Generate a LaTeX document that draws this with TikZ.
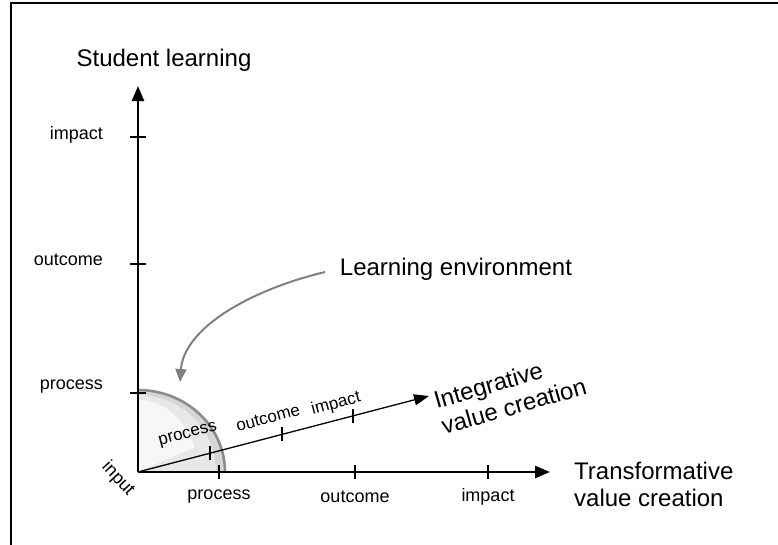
\documentclass[tikz,border=0pt]{standalone}
\usepackage{fontspec}
\setmainfont{Liberation Sans}
\usetikzlibrary{arrows.meta,calc}
\begin{document}
\begin{tikzpicture}[x=1pt,y=-1pt,
  axis/.style={line width=2.4pt,-{Triangle[length=15pt,width=12pt]}},
  daxis/.style={line width=1.3pt,-{Triangle[length=15pt,width=11pt]}},
  tickmark/.style={line width=1.3pt},
  biglab/.style={font=\fontsize{24}{27}\selectfont,inner sep=0pt},
  lab/.style={font=\fontsize{18}{20}\selectfont,inner sep=0pt},
  dlab/.style={font=\fontsize{17}{19}\selectfont,inner sep=0pt,rotate=15},
  envarrow/.style={line width=2pt,draw=black!50,-{Triangle[length=13pt,width=11pt]}}]
\useasboundingbox (0,0) rectangle (778,544);
\clip (0,0) rectangle (778,544);
\fill[white] (0,0) rectangle (778,544);
\draw[line width=2pt] (11,3) rectangle (800,570);
% coordinates
\coordinate (O) at (138,472);
\coordinate (ytip) at (138,86);
\coordinate (xtip) at (550,472);
\coordinate (dtip) at (429,396);
% quarter disc
\begin{scope}
  \clip (O) -- (138,390) arc[start angle=90,end angle=0,x radius=87pt,y radius=82pt] -- cycle;
  \fill[black!16] (O) rectangle (240,380);
  \fill[black!9] (O) -- (138,395) arc[start angle=90,end angle=0,x radius=78pt,y radius=77pt] -- cycle;
  \fill[black!3] (O) -- (138,400) arc[start angle=90,end angle=20,x radius=60pt,y radius=72pt] -- cycle;
\end{scope}
\draw[line width=2.6pt,draw=black!45] (138,390) arc[start angle=90,end angle=0,x radius=87pt,y radius=82pt];
% axes
\draw[axis] (O) -- (ytip);
\draw[axis] (O) -- (xtip);
\draw[daxis] (O) -- (dtip);
% ticks vertical axis
\foreach \yy/\nm in {137/a,264/b,393/c}{
  \coordinate (vt\nm) at (138,\yy);
  \draw[tickmark] (vt\nm) ++(-8,0) -- ++(16,0);
}
% ticks horizontal axis
\foreach \xx/\nm in {219/a,355/b,488/c}{
  \coordinate (ht\nm) at (\xx,472);
  \draw[tickmark] (ht\nm) ++(0,-7) -- ++(0,14);
}
% ticks diagonal axis
\foreach \ff/\nm in {0.2474/a,0.4948/b,0.7388/c}{
  \coordinate (dt\nm) at ($(O)!\ff!(dtip)$);
  \draw[tickmark] (dt\nm) ++(0,-7) -- ++(0,14);
}
% labels
\node[biglab] (ylabel) at (164,60) {Student learning};
\node[lab,anchor=east] (yimp) at (103,135) {impact};
\node[lab,anchor=east] (yout) at (103,260) {outcome};
\node[lab,anchor=east] (ypro) at (103,387) {process};
\node[lab] (xpro) at (219,497) {process};
\node[lab] (xout) at (355,497) {outcome};
\node[lab] (ximp) at (488,497) {impact};
\node[lab,rotate=-47] (inp) at (118,479) {input};
\node[dlab] (dpro) at (188,435) {process};
\node[dlab] (dout) at (268,418) {outcome};
\node[dlab] (dimp) at (336,404) {impact};
\node[biglab,align=left,anchor=west] (xlabel) at (574,484) {Transformative\\value creation};
\node[biglab,align=left,rotate=16] (dlabel) at (510,393) {Integrative\\value creation};
\node[biglab] (env) at (456,269) {Learning environment};
\coordinate (envstart) at (325,272);
\coordinate (envend) at (180,382);
\draw[envarrow] (envstart) .. controls (250,290) and (184,328) .. (envend);
\end{tikzpicture}
\end{document}
